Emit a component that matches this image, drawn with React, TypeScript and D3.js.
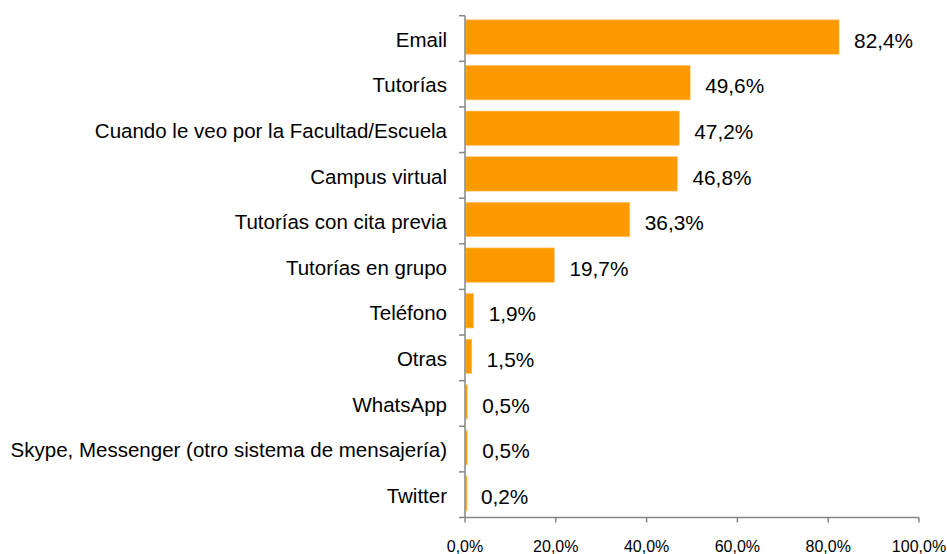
import React, { useRef, useEffect } from "react";
import * as d3 from "d3";

const categories = [
  "Email",
  "Tutorías",
  "Cuando le veo por la Facultad/Escuela",
  "Campus virtual",
  "Tutorías con cita previa",
  "Tutorías en grupo",
  "Teléfono",
  "Otras",
  "WhatsApp",
  "Skype, Messenger (otro sistema de mensajería)",
  "Twitter",
];
const values = [82.4, 49.6, 47.2, 46.8, 36.3, 19.7, 1.9, 1.5, 0.5, 0.5, 0.2];
const ticks = [0, 20, 40, 60, 80, 100];

const fmt = (v: number) => v.toFixed(1).replace(".", ",") + "%";

const App = () => {
  const ref = useRef<SVGSVGElement>(null);

  useEffect(() => {
    const svg = d3.select(ref.current);
    svg.selectAll("*").remove();

    const width = 947;
    const height = 554;
    const font = "'Liberation Sans', Arial, sans-serif";

    const x = d3.scaleLinear().domain([0, 100]).range([465, 919]);
    const y = d3.scaleBand().domain(categories).range([15.7, 517.5]).padding(0);
    const bw = y.bandwidth();

    svg.attr("width", width).attr("height", height);

    // bars
    svg
      .selectAll(".bar")
      .data(values)
      .enter()
      .append("rect")
      .attr("x", x(0) + 0.8)
      .attr("y", (d, i) => y(categories[i])! + bw * 0.09)
      .attr("width", (d) => Math.max(x(d) - x(0) - 0.8, 1.2))
      .attr("height", bw * 0.755)
      .attr("fill", "#FF9900")
      .attr("stroke", "#FFC977")
      .attr("stroke-width", 0.6);

    // value labels
    svg
      .selectAll(".val")
      .data(values)
      .enter()
      .append("text")
      .attr("x", (d) => x(d) + 15)
      .attr("y", (d, i) => y(categories[i])! + bw / 2 + 2)
      .attr("dy", "0.35em")
      .style("font-family", font)
      .style("font-size", "20.8px")
      .style("fill", "#000")
      .text((d) => fmt(d));

    // left axis
    const axis = svg.append("g").attr("stroke", "#868686").attr("stroke-width", 1.5);
    axis
      .append("line")
      .attr("x1", x(0))
      .attr("x2", x(0))
      .attr("y1", y.range()[0])
      .attr("y2", y.range()[1]);
    const edges = categories.map((c) => y(c)!).concat([y.range()[1]]);
    axis
      .selectAll(".ytick")
      .data(edges)
      .enter()
      .append("line")
      .attr("x1", x(0) - 6)
      .attr("x2", x(0))
      .attr("y1", (d) => d)
      .attr("y2", (d) => d);

    // bottom axis
    axis
      .append("line")
      .attr("x1", x(0))
      .attr("x2", x(100))
      .attr("y1", y.range()[1])
      .attr("y2", y.range()[1]);
    axis
      .selectAll(".xtick")
      .data(ticks)
      .enter()
      .append("line")
      .attr("x1", (d) => x(d))
      .attr("x2", (d) => x(d))
      .attr("y1", y.range()[1])
      .attr("y2", y.range()[1] + 5);

    svg
      .selectAll(".xlab")
      .data(ticks)
      .enter()
      .append("text")
      .attr("x", (d) => x(d))
      .attr("y", 552)
      .attr("text-anchor", "middle")
      .style("font-family", font)
      .style("font-size", "16px")
      .style("fill", "#000")
      .text((d) => fmt(d));

    // category labels
    svg
      .selectAll(".cat")
      .data(categories)
      .enter()
      .append("text")
      .attr("x", x(0) - 18)
      .attr("y", (d) => y(d)! + bw / 2 + 1)
      .attr("dy", "0.35em")
      .attr("text-anchor", "end")
      .style("font-family", font)
      .style("font-size", "20.5px")
      .style("fill", "#000")
      .text((d) => d);
  }, []);

  return (
    <div style={{ position: "absolute", left: 0, top: 0, width: 947, height: 554, background: "#fff" }}>
      <svg ref={ref} style={{ display: "block" }} />
    </div>
  );
};

export default App;
